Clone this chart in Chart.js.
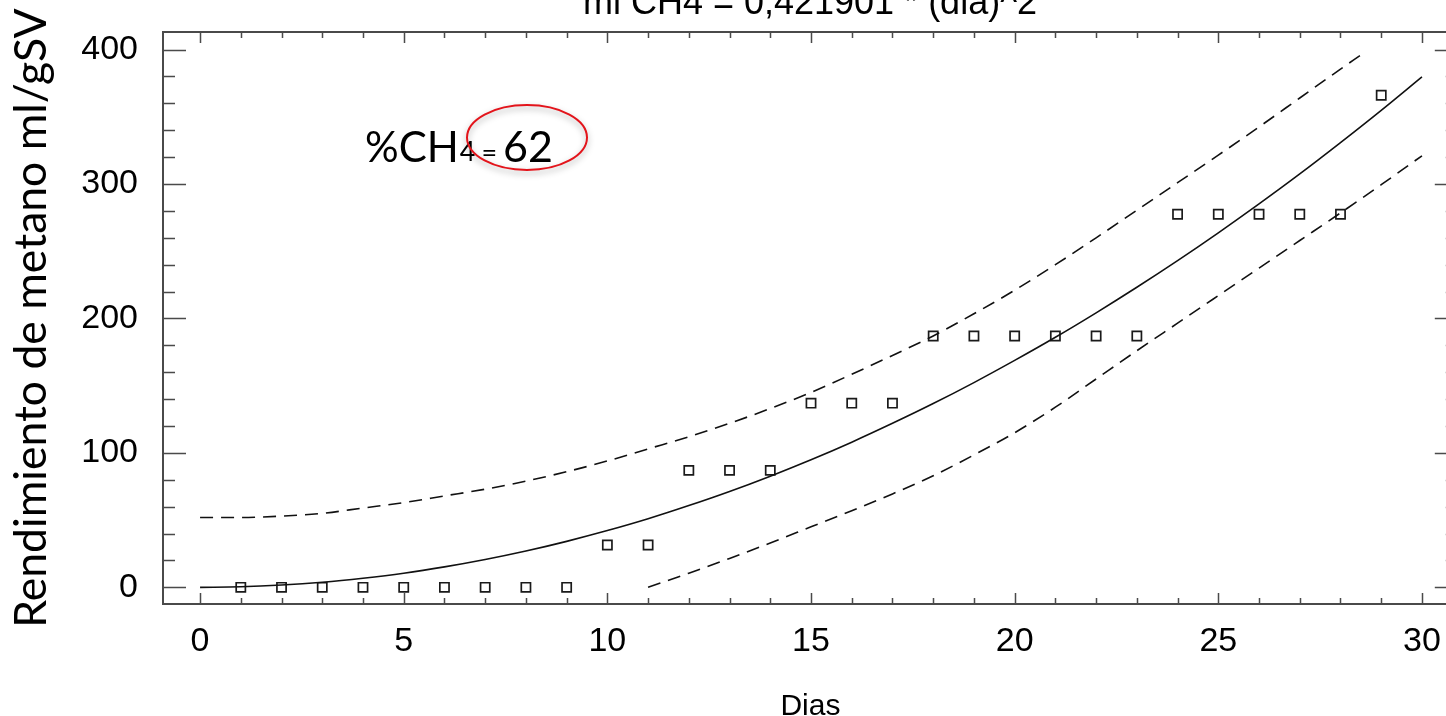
<!DOCTYPE html>
<html>
<head>
<meta charset="utf-8">
<script src="https://cdn.jsdelivr.net/npm/chart.js@4/dist/chart.umd.min.js"></script>
<style>
    html, body { margin: 0; padding: 0; background: #fff; overflow: hidden; }
    .wrap { width: 1466px; height: 716px; }
</style>
</head>
<body>
<div class="wrap"><canvas id="methaneChart" width="1466" height="716"></canvas></div>
<script>
/* =========================
   DATA
========================= */

const xTickValues = [0, 5, 10, 15, 20, 25, 30];
const yTickValues = [0, 100, 200, 300, 400];

const obsDays   = [1, 2, 3, 4, 5, 6, 7, 8, 9, 10, 11, 12, 13, 14, 15, 16, 17, 18, 19, 20, 21, 22, 23, 24, 25, 26, 27, 28, 29];
const obsValues = [0, 0, 0, 0, 0, 0, 0, 0, 0, 31.5, 31.5, 87, 87, 87, 137, 137, 137, 187, 187, 187, 187, 187, 187, 277.5, 277.5, 277.5, 277.5, 277.5, 366];

const fitDays   = [0, 1, 2, 3, 4, 5, 6, 7, 8, 9, 10, 11, 12, 13, 14, 15, 16, 17, 18, 19, 20, 21, 22, 23, 24, 25, 26, 27, 28, 29, 30];
const fitValues = [0, 0.4, 1.7, 3.8, 6.8, 10.5, 15.2, 20.7, 27, 34.2, 42.2, 51, 60.8, 71.3, 82.7, 94.9, 108, 122, 136.7, 152.3, 168.8, 186, 204.2, 223.2, 243, 263.7, 285.2, 307.5, 330.8, 354.8, 379.7];

const upperDays   = [0, 1, 2, 3, 4, 5, 6, 7, 8, 9, 10, 11, 12, 13, 14, 15, 16, 17, 18, 19, 20, 21, 22, 23, 24, 25, 26, 27, 28, 28.5];
const upperValues = [52, 52, 53, 55, 59, 63, 68, 73, 79, 86, 94, 103, 112, 122, 133, 145, 158.5, 172.5, 187, 203.5, 221, 240, 260, 280.5, 301, 321.5, 342.5, 364, 385.5, 396];

const lowerDays   = [11, 12, 13, 14, 15, 16, 17, 18, 19, 20, 21, 22, 23, 24, 25, 26, 27, 28, 29, 30];
const lowerValues = [0, 10.5, 21.5, 33, 45, 57, 69.5, 83, 98.5, 115, 134, 155, 176, 196.5, 217, 237.5, 258, 278.5, 299.5, 321];

const titleText = 'ml CH4 = 0,421901 * (dia)^2';

function toPoints(xs, ys){
    return xs.map(function(x, i){ return { x: x, y: ys[i] }; });
}

/* =========================
   FRAME + INWARD TICKS
========================= */

const framePlugin = {
    id: 'frame',
    afterDatasetsDraw: function(chart){
        const ctx = chart.ctx;
        const a = chart.chartArea;
        const xs = chart.scales.x;
        const ys = chart.scales.y;

        ctx.save();
        ctx.strokeStyle = '#4a4a4a';
        ctx.lineWidth = 2;
        ctx.strokeRect(a.left, a.top, a.right - a.left, a.bottom - a.top);

        ctx.lineWidth = 1.5;
        ctx.beginPath();
        for(let d = 0; d <= 30; d++){
            const px = Math.round(xs.getPixelForValue(d)) + 0.5;
            const len = (d % 5 === 0) ? 11 : 6;
            ctx.moveTo(px, a.bottom); ctx.lineTo(px, a.bottom - len);
            ctx.moveTo(px, a.top);    ctx.lineTo(px, a.top + len);
        }
        for(let v = 0; v <= 400; v += 20){
            const py = Math.round(ys.getPixelForValue(v)) + 0.5;
            const len = (v % 100 === 0) ? 23 : 12;
            ctx.moveTo(a.left, py);  ctx.lineTo(a.left + len, py);
            ctx.moveTo(a.right, py); ctx.lineTo(a.right - len, py);
        }
        ctx.stroke();
        ctx.restore();
    },
    afterDraw: function(chart){
        const ctx = chart.ctx;
        const a = chart.chartArea;

        ctx.save();
        // title, cut off by the top edge
        ctx.fillStyle = '#000';
        ctx.font = '36px "Liberation Sans", Arial, sans-serif';
        ctx.textAlign = 'center';
        ctx.textBaseline = 'alphabetic';
        ctx.fillText(titleText, 810, 14);

        // %CH4 = 62 note
        ctx.textAlign = 'left';
        let x = 365;
        ctx.font = '42px Lato, "Open Sans", sans-serif';
        ctx.fillText('%CH', x, 162);
        x += ctx.measureText('%CH').width + 1;
        ctx.font = '27px Lato, "Open Sans", sans-serif';
        ctx.fillText('4', x, 161);
        x += ctx.measureText('4').width + 6;
        ctx.font = '27px Lato, "Open Sans", sans-serif';
        ctx.fillText('=', x, 162);
        x += ctx.measureText('=').width + 6;
        ctx.font = '43px Lato, "Open Sans", sans-serif';
        ctx.fillText('62', x, 162);

        // red ellipse
        ctx.shadowColor = 'rgba(0,0,0,0.35)';
        ctx.shadowBlur = 6;
        ctx.shadowOffsetY = 3;
        ctx.strokeStyle = '#e3141b';
        ctx.lineWidth = 2;
        ctx.beginPath();
        ctx.ellipse(527, 137.5, 60, 32.5, 0, 0, Math.PI * 2);
        ctx.stroke();
        ctx.restore();
    }
};

/* =========================
   CHART
========================= */

const canvas = document.getElementById('methaneChart');

new Chart(canvas, {
    type: 'scatter',

    data: {
        datasets: [
            {
                label: 'upper',
                type: 'line',
                data: toPoints(upperDays, upperValues),
                borderColor: '#111',
                borderWidth: 1.6,
                borderDash: [13, 8],
                pointRadius: 0,
                fill: false,
                cubicInterpolationMode: 'monotone'
            },
            {
                label: 'lower',
                type: 'line',
                data: toPoints(lowerDays, lowerValues),
                borderColor: '#111',
                borderWidth: 1.6,
                borderDash: [13, 8],
                pointRadius: 0,
                fill: false,
                cubicInterpolationMode: 'monotone'
            },
            {
                label: 'fit',
                type: 'line',
                data: toPoints(fitDays, fitValues),
                borderColor: '#111',
                borderWidth: 1.6,
                pointRadius: 0,
                fill: false,
                cubicInterpolationMode: 'monotone'
            },
            {
                label: 'obs',
                data: toPoints(obsDays, obsValues),
                pointStyle: 'rect',
                pointRadius: 6.5,
                pointBorderWidth: 1.7,
                pointBorderColor: '#1a1a1a',
                pointBackgroundColor: 'rgba(255,255,255,0)'
            }
        ]
    },

    options: {
        responsive: false,
        animation: false,
        devicePixelRatio: 1,

        layout: {
            padding: { top: 32, right: 3, bottom: 0, left: 0 }
        },

        plugins: {
            legend: { display: false },
            tooltip: { enabled: false }
        },

        scales: {
            x: {
                type: 'linear',
                min: -0.91,
                max: 30.88,
                afterFit: function(s){
                    s.height = 112;
                    s.paddingLeft = 0;
                    s.paddingRight = 0;
                },
                afterBuildTicks: function(s){
                    s.ticks = xTickValues.map(function(v){ return { value: v }; });
                },
                grid: { display: false, drawTicks: false },
                border: { display: false },
                ticks: {
                    color: '#000',
                    padding: 17,
                    maxRotation: 0,
                    font: { family: '"Liberation Sans", Arial, sans-serif', size: 34 }
                },
                title: {
                    display: true,
                    text: 'Dias',
                    color: '#000',
                    font: { family: '"Liberation Sans", Arial, sans-serif', size: 30, lineHeight: 1 },
                    padding: { top: 0, bottom: -6 }
                }
            },

            y: {
                type: 'linear',
                min: -12.4,
                max: 413.1,
                afterFit: function(s){
                    s.width = 163;
                    s.paddingTop = 0;
                    s.paddingBottom = 0;
                },
                afterBuildTicks: function(s){
                    s.ticks = yTickValues.map(function(v){ return { value: v }; });
                },
                grid: { display: false, drawTicks: false },
                border: { display: false },
                ticks: {
                    color: '#000',
                    padding: 25,
                    font: { family: '"Liberation Sans", Arial, sans-serif', size: 34 }
                },
                title: {
                    display: true,
                    text: 'Rendimiento de metano ml/gSV',
                    color: '#000',
                    font: { family: 'Lato, "Open Sans", sans-serif', size: 44.5, lineHeight: 1 },
                    padding: { top: 9, bottom: 0 }
                }
            }
        }
    },

    plugins: [framePlugin]
});
</script>
</body>
</html>
